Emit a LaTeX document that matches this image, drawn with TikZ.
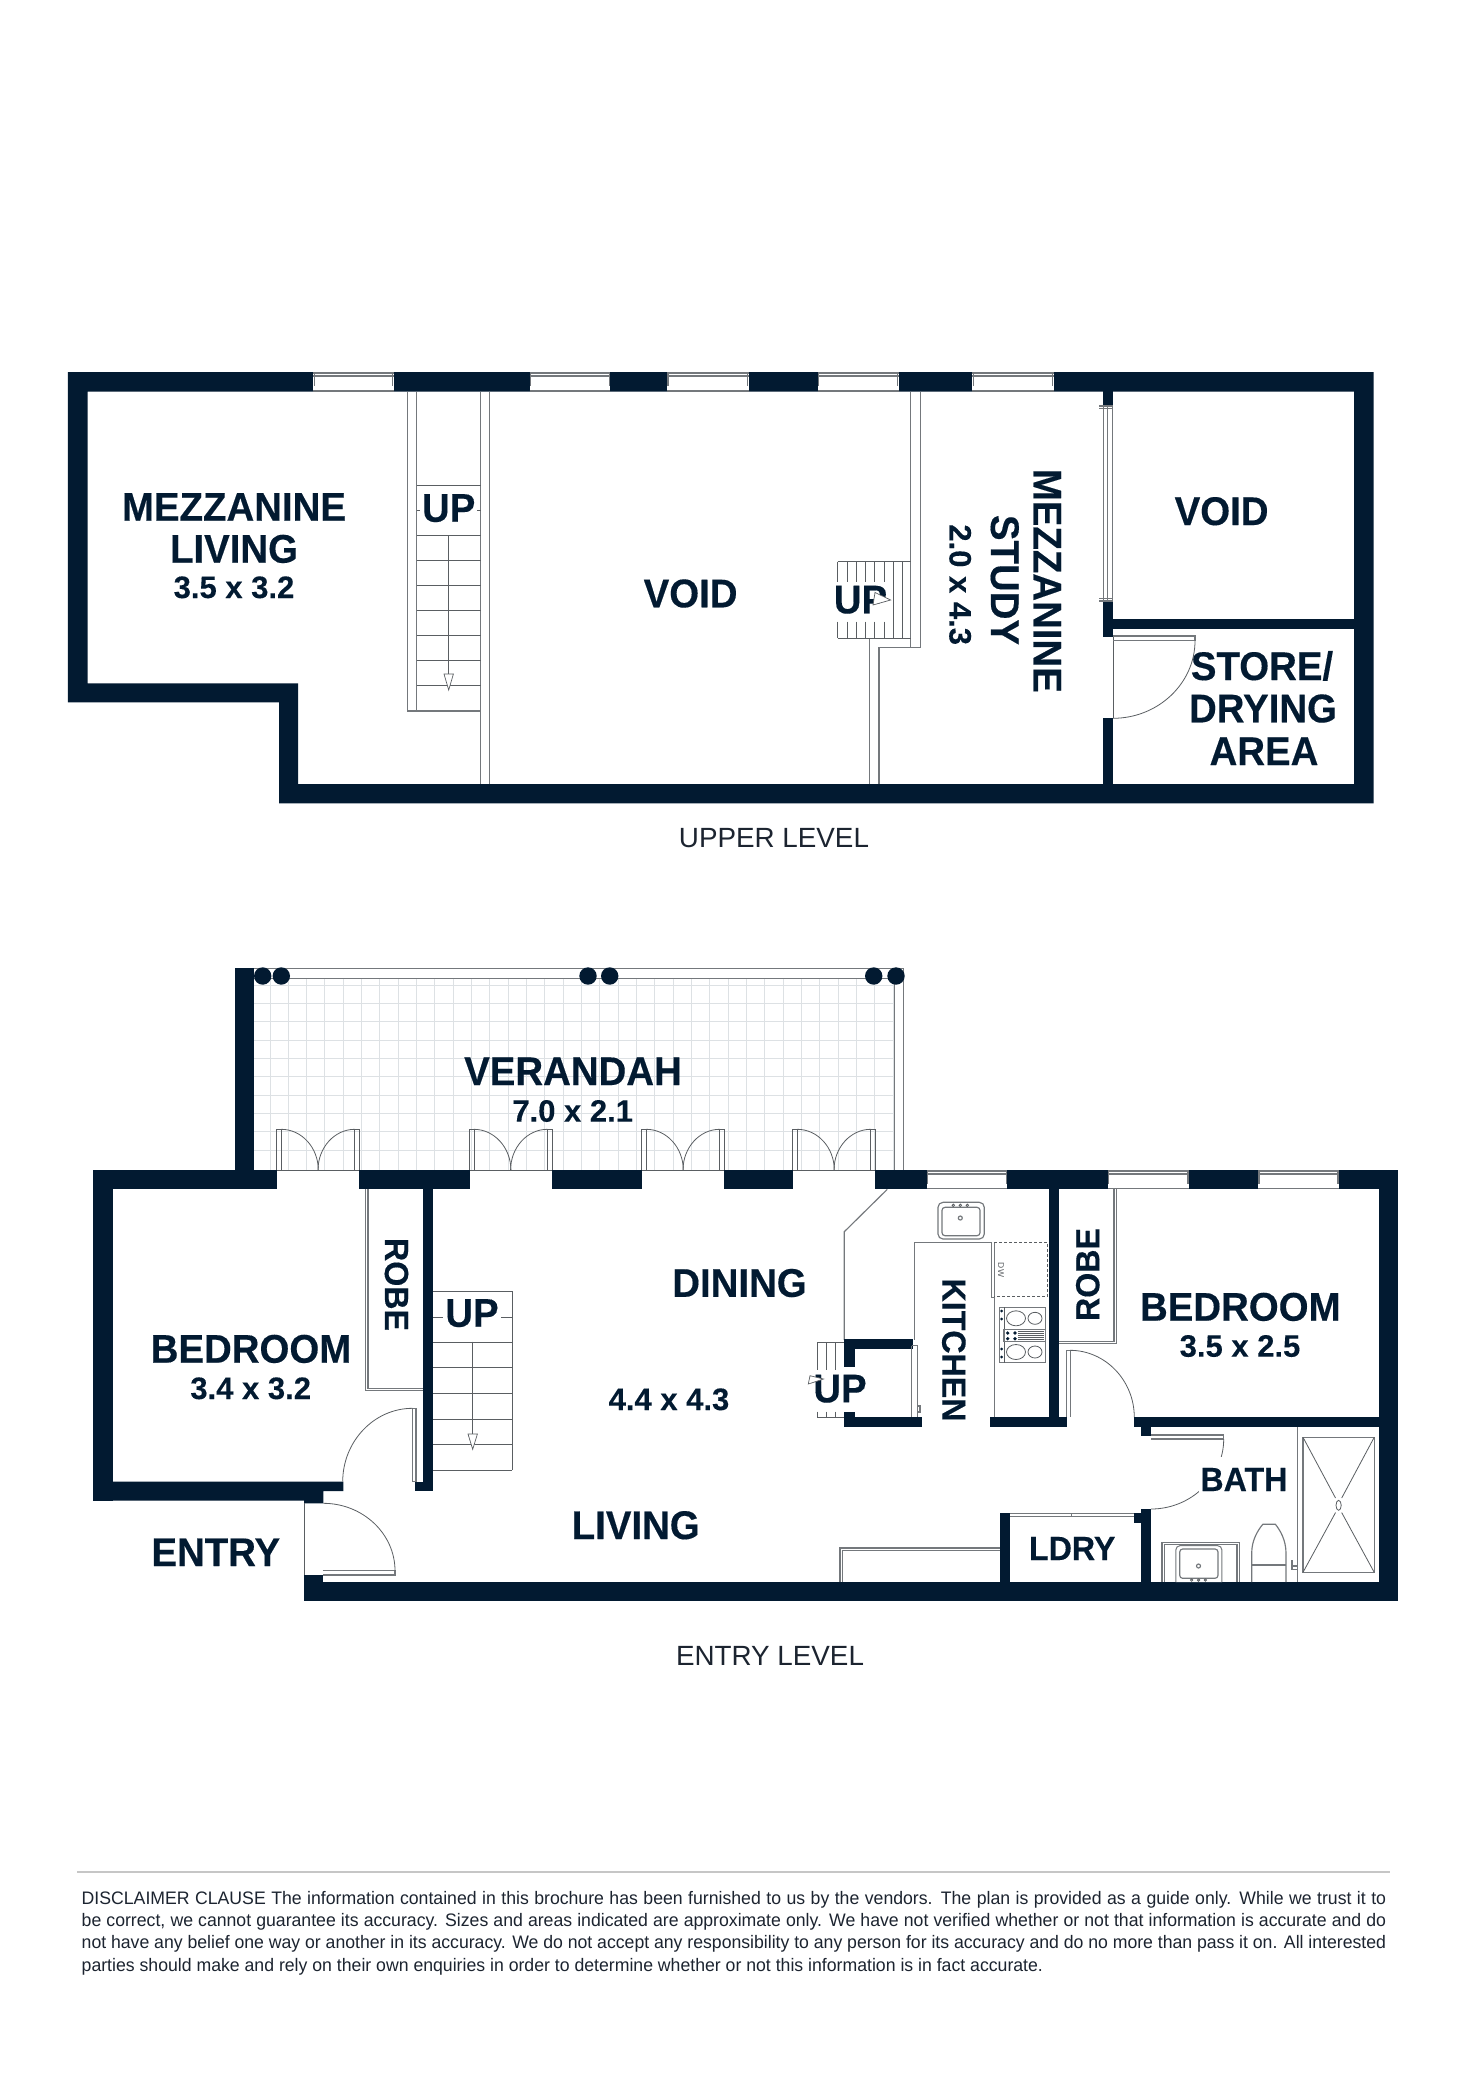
\documentclass[tikz,border=0pt]{standalone}
\usepackage{fontspec}
\setmainfont{Liberation Sans}
\newfontfamily\lab{Liberation Sans}[FakeStretch=0.96,FakeBold=0.3]
\newfontfamily\sizef{Liberation Sans}[FakeBold=0.2]
\newfontfamily\bodyf{Liberation Sans}[FakeStretch=0.976]
\definecolor{wallc}{HTML}{021A31}
\definecolor{linec}{HTML}{74787C}
\definecolor{arcc}{HTML}{5A5E62}
\definecolor{gridc}{HTML}{DDE1E4}
\definecolor{bodyc}{HTML}{1C2430}
\tikzset{
  wall/.style={fill=wallc},
  fine/.style={draw=linec,line width=1.15pt},
  swingl/.style={draw=arcc,line width=0.8pt},
  gridl/.style={draw=gridc,line width=1pt},
  tread/.style={draw=arcc,line width=0.8pt},
  tip/.style={draw=arcc,fill=white,line width=0.7pt},
  big/.style={anchor=base,inner sep=0pt,text=wallc,font=\lab\bfseries\fontsize{40}{40}\selectfont},
  mid/.style={anchor=base,inner sep=0pt,text=wallc,font=\lab\bfseries\fontsize{33.5}{34}\selectfont},
  dim/.style={anchor=base,inner sep=0pt,text=wallc,font=\sizef\bfseries\fontsize{31}{31}\selectfont},
  level/.style={anchor=base,inner sep=0pt,text=bodyc,font=\fontsize{27.8}{28}\selectfont},
  clause/.style={anchor=base west,inner sep=0pt,text=bodyc,font=\bodyf\fontsize{18.1}{20}\selectfont},
  halo/.style={fill=white,inner sep=2pt}
}
% centre x, centre y, u vector, v vector
\newcommand{\swing}[6]{\draw[swingl] ({#1+#3},{#2+#4}) .. controls ({#1+#3+.55*#5},{#2+#4+.55*#6}) and ({#1+#5+.55*#3},{#2+#6+.55*#4}) .. ({#1+#5},{#2+#6});}
\newcommand{\hwin}[4]{%
  \fill[white] (#1,{#3-1}) rectangle (#2,{#4+.5});
  \draw[fine] (#1,{#3+1}) -- (#2,{#3+1}) (#1,{#3+4}) -- (#2,{#3+4}) (#1,{#4-.7}) -- (#2,{#4-.7});
  \draw[fine] ({#1+1},{#3+1}) -- ({#1+1},{#3+14}) ({#2-1},{#3+1}) -- ({#2-1},{#3+14});}
\newcommand{\frenchdoor}[1]{%
  \draw[swingl] (#1,1170) -- ({#1+82.6},1170);
  \draw[swingl] (#1,1170) -- (#1,1129.3) -- ({#1+4.6},1129.3) -- ({#1+4.6},1170);
  \draw[swingl] ({#1+82.6},1170) -- ({#1+82.6},1129.3) -- ({#1+78},1129.3) -- ({#1+78},1170);
  \swing{#1+4.6}{1170}{0}{-40.7}{37}{0}
  \swing{#1+78}{1170}{0}{-40.7}{-36.7}{0}}
\begin{document}
\begin{tikzpicture}[x=1pt,y=-1pt]
\useasboundingbox (0,0) rectangle (1472,2085);
\fill[white] (0,0) rectangle (1472,2085);

%%% ---------- UPPER LEVEL ----------
\fill[wall,even odd rule] (67.9,372) -- (1373.6,372) -- (1373.6,803.3) -- (279,803.3) -- (279,702.3) -- (67.9,702.3) -- cycle
   (87.5,391.7) -- (1354,391.7) -- (1354,784) -- (298.2,784) -- (298.2,683.3) -- (87.5,683.3) -- cycle;
\fill[wall] (1103,391) rectangle (1113,636.7);
\fill[wall] (1103,718.3) rectangle (1113,785);
\fill[wall] (1113,619) rectangle (1354,629);
\hwin{313.4}{393.7}{372}{391.7}
\hwin{529.5}{610.3}{372}{391.7}
\hwin{667}{748.6}{372}{391.7}
\hwin{817.9}{898.7}{372}{391.7}
\hwin{972.3}{1053.6}{372}{391.7}
% interior glazing
\fill[white] (1102.5,407) rectangle (1113.2,600);
\draw[fine] (1103.5,407) -- (1103.5,600) (1107.5,407) -- (1107.5,600) (1112.6,407) -- (1112.6,600);
\draw[fine] (1099,406) -- (1113,406) (1099,408.5) -- (1113,408.5) (1099,598.5) -- (1113,598.5) (1099,601) -- (1113,601);
% store door
\draw[swingl] (1113,636.7) -- (1113,718.3);
\draw[fine] (1113,636) -- (1195,636) -- (1195,640.7) -- (1113,640.7);
\swing{1113}{640.7}{82}{0}{0}{77.6}
% mezzanine stair
\draw[fine] (407.6,391.7) -- (407.6,711) -- (480.8,711);
\draw[fine] (416.5,391.7) -- (416.5,711);
\draw[fine] (480.8,391.7) -- (480.8,784);
\draw[fine] (489.7,391.7) -- (489.7,784);
\foreach \yy in {485.3,510.3,535.3,560.3,585.3,610.3,635.7,660.3,685.3}
  \draw[tread] (416.5,\yy) -- (480.8,\yy);
\draw[tread] (448.7,535.3) -- (448.7,690);
\draw[tip] (444,674) -- (453.4,674) -- (448.7,690) -- cycle;
\node[big,halo] (upa) at (448.7,521.7) {UP};
% void stair
\draw[fine] (910.7,391.7) -- (910.7,647.3);
\draw[fine] (920.5,391.7) -- (920.5,647.3) -- (879,647.3) -- (879,784);
\draw[fine] (869.6,638.3) -- (869.6,784);
\draw[tread] (837.5,561.7) -- (910.7,561.7) (837.5,638.3) -- (910.7,638.3);
\foreach \xx in {837.5,846.9,856.3,865.2,874.5,883.9}
  \draw[tread] (\xx,561.7) -- (\xx,581.7) (\xx,621.7) -- (\xx,638.3);
\foreach \xx in {892.9,902}
  \draw[tread] (\xx,561.7) -- (\xx,638.3);
\node[big] (upb) at (860.5,613.3) {UP};
\draw[tip] (890.6,600) -- (875,592.5) -- (873,605) -- cycle;
% upper labels
\node[big] (n1) at (234,520.7) {MEZZANINE};
\node[big] (n2) at (234,562.7) {LIVING};
\node[dim] (n3) at (234,598) {3.5 x 3.2};
\node[big] (n4) at (690.6,607.3) {VOID};
\node[big,rotate=-90] (n5) at (1033.5,580.8) {MEZZANINE};
\node[big,rotate=-90] (n6) at (991,580) {STUDY};
\node[dim,rotate=-90] (n7) at (949.5,584.7) {2.0 x 4.3};
\node[big] (n8) at (1221.6,525) {VOID};
\node[big] (n9) at (1262,680) {STORE/};
\node[big] (n10) at (1263,722.3) {DRYING};
\node[big] (n11) at (1264,765) {AREA};
\node[level] (n12) at (774,847) {UPPER LEVEL};

%%% ---------- ENTRY LEVEL ----------
% verandah
\foreach \k in {0,...,9} \draw[gridl] (254,{985.3+18.33*\k}) -- (894,{985.3+18.33*\k});
\foreach \k in {0,...,34} \draw[gridl] ({270+18.33*\k},978.3) -- ({270+18.33*\k},1170);
\draw[fine,line width=1.2pt] (254,968.8) -- (903.6,968.8) -- (903.6,1170);
\draw[fine,line width=1.2pt] (254,978.3) -- (894.3,978.3) -- (894.3,1170);
\fill[wall] (235,968.3) rectangle (254,1170);
\foreach \xx in {262.7,281.3,588,609.7,873.7,896}
  \fill[wall] (\xx,976) circle[radius=8.7];
\frenchdoor{276.7}
\frenchdoor{469.3}
\frenchdoor{641.7}
\frenchdoor{792.7}
% main walls
\fill[wall] (93.3,1170) rectangle (277.3,1189.3);
\fill[wall] (359,1170) rectangle (470,1189.3);
\fill[wall] (552,1170) rectangle (642.3,1189.3);
\fill[wall] (724,1170) rectangle (793.3,1189.3);
\fill[wall] (875,1170) rectangle (1398.3,1189.3);
\hwin{926.7}{1007.3}{1170}{1189.3}
\hwin{1107.7}{1189}{1170}{1189.3}
\hwin{1258}{1339}{1170}{1189.3}
\fill[wall] (93.3,1170) rectangle (113,1500.7);
\fill[wall] (93.3,1500.7) -- (93.3,1481.7) -- (343.3,1481.7) -- (343.3,1491) -- (323.3,1491) -- (323.3,1503.3) -- (304,1503.3) -- (304,1500.7) -- cycle;
\fill[wall] (423.3,1189) rectangle (433.3,1491);
\fill[wall] (415.3,1481.7) rectangle (433.3,1491);
\fill[wall] (1379,1170) rectangle (1398.3,1601);
\fill[wall] (303.7,1582) rectangle (1398.3,1601);
\fill[wall] (303.7,1575) rectangle (323.3,1601);
% robe 1
\draw[fine] (365.7,1189.3) -- (365.7,1390.7) -- (423.3,1390.7);
\draw[fine] (368,1189.3) -- (368,1388.3) -- (423.3,1388.3);
% bedroom 1 door
\draw[fine] (412.3,1408.3) -- (416,1408.3) -- (416,1481.7) -- (412.3,1481.7) -- cycle;
\swing{412.5}{1481.7}{0}{-73.4}{-69.8}{0}
% main stair
\foreach \yy in {1291,1317,1342.7,1367.7,1393.3,1419,1444.3,1470}
  \draw[tread] (433.3,\yy) -- (512,\yy);
\draw[tread] (512,1291) -- (512,1470);
\draw[tread] (472.7,1341.7) -- (472.7,1449.3);
\draw[tip] (468,1434) -- (477.4,1434) -- (472.7,1449.3) -- cycle;
\node[big,halo] (upc) at (472,1326.7) {UP};
% entry door
\draw[swingl] (304,1503.3) -- (304,1575);
\draw[fine] (322.7,1570.7) -- (395,1570.7) -- (395,1575) -- (322.7,1575);
\swing{323.3}{1570.7}{0}{-67.4}{71.7}{0}
% kitchen partition
\draw[fine] (887.3,1189.3) -- (844.3,1231.7) -- (844.3,1340);
\draw[fine] (914.3,1242.3) -- (914.3,1340);
\draw[fine] (914.3,1242.3) -- (991.3,1242.3);
% small stair
\draw[tread] (817.3,1342.3) -- (844.3,1342.3) (817.3,1417.3) -- (844.3,1417.3);
\foreach \xx in {817.3,826.7,835.7}
  \draw[tread] (\xx,1342.3) -- (\xx,1370) (\xx,1411.7) -- (\xx,1417.3);
\fill[wall] (844.3,1339.3) rectangle (913.3,1349.3);
\fill[wall] (844.3,1339.3) rectangle (855.3,1366.7);
\fill[wall] (844.3,1411.7) rectangle (855.3,1427.3);
\fill[wall] (844.3,1417.3) rectangle (922.3,1427.3);
\node[big] (upd) at (840,1402.3) {UP};
\draw[tip] (808.3,1384) -- (823.5,1379) -- (810,1375.7) -- cycle;
% pantry door
\draw[fine] (911.7,1345.7) -- (917.3,1345.7) -- (917.3,1417.3) (911.7,1345.7) -- (911.7,1417.3);
\draw[fine] (917.6,1406) rectangle (920,1412);
% kitchen fittings
\draw[fine] (991.3,1242.3) -- (991.3,1297.3) -- (994.3,1297.3) -- (994.3,1417.3);
\draw[fine] (994.3,1242.3) -- (994.3,1297.3);
\draw[tread,densely dashed] (994.3,1242.7) -- (1047.7,1242.7) -- (1047.7,1296.7) -- (994.3,1296.7);
\node[rotate=-90,inner sep=0pt,text=arcc,font=\fontsize{8.5}{9}\selectfont] (dw) at (1001,1270) {DW};
\draw[fine,rounded corners=5pt] (938,1202.3) rectangle (984.3,1239);
\draw[fine,rounded corners=3pt] (942,1207.3) rectangle (980,1235.7);
\foreach \xx in {953.3,960.3,967.3} \draw[tread] (\xx,1205.3) circle[radius=1.2];
\draw[fine] (960.3,1218) circle[radius=2];
\draw[fine,line width=1.3pt] (999.3,1307.3) rectangle (1045.3,1362.7);
\draw[tread] (1004,1307.3) -- (1004,1362.7);
\foreach \yy in {1318.3,1352} {
  \draw[tread] (1016,\yy) ellipse[x radius=9.5,y radius=7.5];
  \draw[tread] (1035,\yy) ellipse[x radius=7,y radius=6];}
\draw[fine] (1004,1329.3) rectangle (1045.3,1341.3);
\fill[wallc] (1007.7,1333) circle[radius=1.8] (1015,1333) circle[radius=1.8] (1007.7,1338.7) circle[radius=1.8] (1015,1338.7) circle[radius=1.8];
\foreach \yy in {1331,1333,1335,1337,1339} \draw[arcc,line width=.7pt] (1018.3,\yy) -- (1044,\yy);
\foreach \yy in {1311,1319,1349,1357} \fill[wallc] (1001.6,\yy) circle[radius=1.5];
% kitchen walls
\fill[wall] (1049.3,1189) rectangle (1059.3,1427.3);
\fill[wall] (990,1417.3) rectangle (1067,1427.3);
% robe 2
\draw[fine] (1114,1189.3) -- (1114,1341.3) -- (1059.3,1341.3);
\draw[fine] (1116.7,1189.3) -- (1116.7,1343.3) -- (1059.3,1343.3);
% bedroom 2 door
\draw[fine] (1066.7,1350.3) -- (1070.7,1350.3) -- (1070.7,1417.3) (1066.7,1350.3) -- (1066.7,1417.3);
\swing{1070}{1417.3}{0}{-67}{64.3}{0}
% bedroom 2 bottom wall
\fill[wall] (1133.7,1417.3) rectangle (1379,1427.3);
\fill[wall] (1141,1427) rectangle (1151,1435.7);
% bath door
\draw[fine] (1151,1435) -- (1223.7,1435) -- (1223.7,1439) -- (1151,1439);
\swing{1151}{1439}{72.7}{0}{0}{70}
\fill[white] (1199,1457) rectangle (1290,1496);
% bath walls
\fill[wall] (1140.7,1509) rectangle (1151,1583);
\fill[wall] (1133.8,1513.3) rectangle (1141,1522.7);
\fill[wall] (999.9,1513.3) rectangle (1010.2,1583);
\draw[fine] (1010.2,1513.8) -- (1133.8,1513.8) (1010.2,1516.7) -- (1133.8,1516.7);
\draw[fine] (1071.8,1513.8) -- (1071.8,1516.7);
% bench
\draw[fine] (840,1582) -- (840,1548) -- (999.9,1548);
\draw[fine] (842.6,1582) -- (842.6,1550.7) -- (999.9,1550.7);
% shower
\draw[fine] (1297.2,1427.3) -- (1297.2,1582);
\draw[fine] (1303,1437.3) rectangle (1374.2,1572.3);
\draw[tread] (1303,1437.3) -- (1335.5,1498) (1374.2,1437.3) -- (1341.7,1498) (1303,1572.3) -- (1335.5,1512.6) (1374.2,1572.3) -- (1341.7,1512.6);
\draw[tread] (1338.6,1505.3) ellipse[x radius=2.6,y radius=5];
% toilet
\draw[fine] (1251.7,1582) -- (1251.7,1553) .. controls (1251.7,1540) and (1258,1530) .. (1262.8,1524.3) -- (1275.4,1524.3) .. controls (1280,1530) and (1286,1540) .. (1286,1553) -- (1286,1582);
\draw[fine] (1251.7,1565) -- (1286,1565);
\draw[fine] (1292,1560) -- (1292,1569.5) -- (1297,1569.5) (1292,1566) -- (1297,1566);
% vanity
\draw[fine] (1162,1582) -- (1162,1542.3) -- (1239.4,1542.3) -- (1239.4,1582);
\draw[fine] (1164.5,1582) -- (1164.5,1544.5) -- (1237,1544.5) -- (1237,1582);
\fill[white,draw=linec,line width=1pt,rounded corners=4pt] (1175.9,1582) -- (1175.9,1545.7) -- (1221.8,1545.7) -- (1221.8,1582);
\draw[fine,rounded corners=3pt] (1179.7,1549) rectangle (1218,1578.3);
\draw[fine] (1198.5,1566) circle[radius=2];
\foreach \xx in {1191.6,1198.5,1205.4} \draw[tread] (\xx,1580) circle[radius=1.2];
% entry labels
\node[big] (e1) at (573,1085) {VERANDAH};
\node[dim] (e2) at (572.7,1121.7) {7.0 x 2.1};
\node[big] (e3) at (251,1362.7) {BEDROOM};
\node[dim] (e4) at (250.7,1399) {3.4 x 3.2};
\node[big] (e5) at (215.8,1566) {ENTRY};
\node[mid,rotate=-90] (e6) at (385,1284.5) {ROBE};
\node[big] (e7) at (739.5,1296.8) {DINING};
\node[dim] (e8) at (669,1410) {4.4 x 4.3};
\node[big] (e9) at (635.7,1539) {LIVING};
\node[mid,rotate=-90] (e10) at (942.3,1350) {KITCHEN};
\node[mid,rotate=90] (e11) at (1099.3,1274.5) {ROBE};
\node[big] (e12) at (1240.3,1320.7) {BEDROOM};
\node[dim] (e13) at (1240,1356.7) {3.5 x 2.5};
\node[mid] (e14) at (1243.9,1491) {BATH};
\node[mid] (e15) at (1072.2,1560) {LDRY};
\node[level] (e16) at (770,1665) {ENTRY LEVEL};

%%% ---------- DISCLAIMER ----------
\draw[draw=gray!45,line width=2pt] (77.4,1872.4) -- (1390,1872.4);
\node[clause] (d1) at (81.5,1904) {\hbox to 1304.5pt{DISCLAIMER CLAUSE The information contained in this brochure has been furnished to us by the vendors. The plan is provided as a guide only. While we trust it to}};
\node[clause] (d2) at (81.5,1926) {\hbox to 1304.5pt{be correct, we cannot guarantee its accuracy. Sizes and areas indicated are approximate only. We have not verified whether or not that information is accurate and do}};
\node[clause] (d3) at (81.5,1948.3) {\hbox to 1304.5pt{not have any belief one way or another in its accuracy. We do not accept any responsibility to any person for its accuracy and do no more than pass it on. All interested}};
\node[clause] (d4) at (81.5,1971) {parties should make and rely on their own enquiries in order to determine whether or not this information is in fact accurate.};
\end{tikzpicture}
\end{document}
